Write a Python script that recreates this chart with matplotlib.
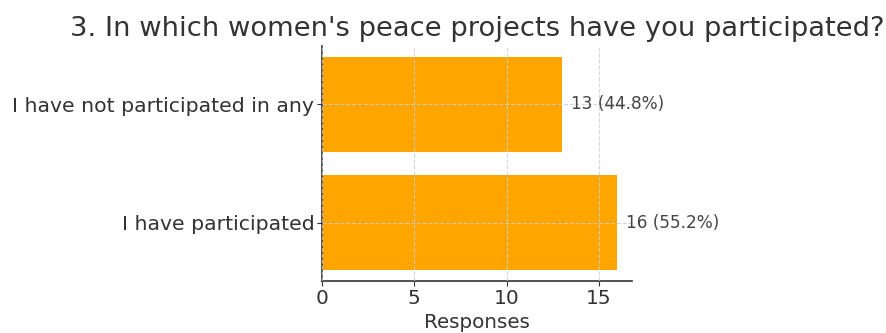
import matplotlib.pyplot as plt

# survey answers, bottom to top
answers = ["I have participated", "I have not participated in any"]
counts = [16, 13]
total = sum(counts)

plt.rcParams['text.color'] = '#333333'
plt.rcParams['axes.labelcolor'] = '#333333'
plt.rcParams['xtick.color'] = '#333333'
plt.rcParams['ytick.color'] = '#333333'

fig = plt.figure(figsize=(8.86, 3.33), dpi=100)
ax = fig.add_axes([322 / 886, 1 - 281 / 333, 310 / 886, 235 / 333])

bars = ax.barh(answers, counts, color='orange', height=0.8)
ax.grid(True, linestyle='--', color='#cccccc', linewidth=0.8, alpha=0.8)
ax.set_axisbelow(False)

for i, c in enumerate(counts):
    pct = c / total * 100
    ax.text(c + 0.5, i, f"{c} ({pct:.1f}%)", va='center', ha='left', fontsize=12.2, color='#444444')

ax.spines['top'].set_visible(False)
ax.spines['right'].set_visible(False)
ax.spines['left'].set_color('#333333')
ax.spines['bottom'].set_color('#333333')
ax.spines['left'].set_linewidth(1.2)
ax.spines['bottom'].set_linewidth(1.2)
ax.set_xticks([0, 5, 10, 15])
ax.tick_params(axis='x', labelsize=14.5, pad=2)
ax.tick_params(axis='y', labelsize=14.7, pad=2)
ax.set_xlabel("Responses", fontsize=14.3, labelpad=4)
ax.set_title("3. In which women's peace projects have you participated?", fontsize=19.7, pad=7)

fig.savefig("out.png", dpi=100)
